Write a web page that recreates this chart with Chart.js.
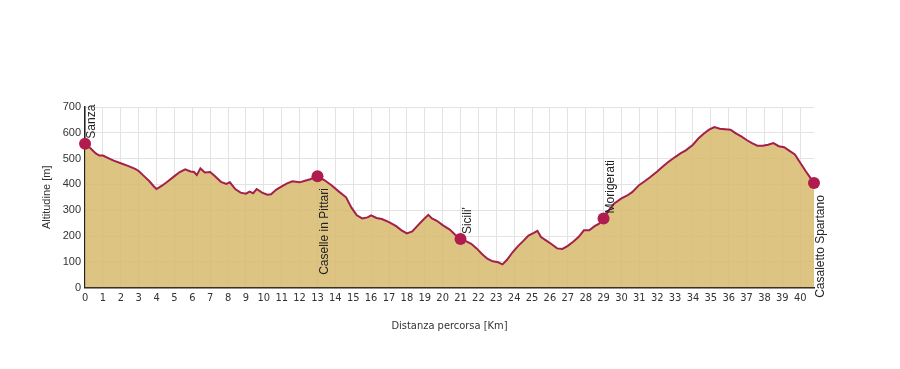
<!DOCTYPE html>
<html>
<head>
<meta charset="utf-8">
<script src="https://cdn.jsdelivr.net/npm/chart.js@4/dist/chart.umd.min.js"></script>
<style>
    html, body { margin: 0; padding: 0; background: #fff; }
    #wrap { width: 900px; height: 369px; }
</style>
</head>
<body>
<div id="wrap"><canvas id="profile"></canvas></div>
<script>
// Profilo altimetrico: distanza [km] e quota [m]
const distKm = [
    0, 0.3, 0.6, 0.8, 1.0, 1.3, 1.6, 2.0, 2.4, 2.8, 3.0, 3.3, 3.6, 3.85, 4.0, 4.3, 4.6, 5.0, 5.3, 5.6,
    5.9, 6.1, 6.25, 6.45, 6.7, 7.0, 7.3, 7.6, 7.9, 8.1, 8.4, 8.7, 9.0, 9.2, 9.4, 9.6, 9.9, 10.2, 10.4, 10.7,
    11.0, 11.3, 11.6, 12.0, 12.3, 12.6, 13.0, 13.4, 13.8, 14.2, 14.6, 14.9, 15.2, 15.5, 15.8, 16.0, 16.3, 16.6, 17.0, 17.4,
    17.7, 18.0, 18.3, 18.6, 18.9, 19.2, 19.4, 19.7, 20.0, 20.4, 20.7, 21.0, 21.3, 21.6, 21.9, 22.2, 22.5, 22.8, 23.1, 23.35,
    23.6, 23.9, 24.2, 24.5, 24.8, 25.1, 25.3, 25.5, 25.8, 26.1, 26.4, 26.7, 27.0, 27.3, 27.6, 27.9, 28.2, 28.5, 28.75, 29.0,
    29.3, 29.6, 30.0, 30.3, 30.6, 31.0, 31.3, 31.6, 32.0, 32.3, 32.6, 33.0, 33.3, 33.6, 34.0, 34.3, 34.6, 34.9, 35.2, 35.5,
    35.8, 36.1, 36.4, 36.7, 37.0, 37.3, 37.6, 37.9, 38.2, 38.5, 38.8, 39.1, 39.4, 39.7, 40.0, 40.3, 40.5, 40.77
];
const altM = [
    558, 540, 520, 512, 512, 502, 492, 482, 472, 460, 452, 432, 412, 392, 382, 395, 410, 432, 448, 458,
    450, 448, 436, 462, 446, 448, 430, 410, 402, 408, 382, 368, 364, 372, 366, 382, 368, 360, 362, 380,
    392, 404, 412, 408, 414, 420, 432, 416, 396, 372, 350, 310, 280, 268, 272, 280, 270, 266, 254, 238,
    222, 210, 218, 240, 262, 282, 268, 258, 242, 225, 205, 188, 180, 170, 152, 130, 112, 102, 98, 90,
    108, 136, 160, 180, 202, 212, 220, 196, 182, 168, 152, 150, 162, 178, 196, 222, 222, 238, 248, 268,
    300, 326, 346, 356, 370, 398, 412, 428, 450, 468, 486, 506, 520, 532, 554, 578, 596, 612, 622, 616,
    614, 612, 598, 586, 572, 560, 550, 550, 554, 560, 548, 544, 530, 516, 484, 452, 432, 405
];

// Località lungo il percorso
const placeNames = ['Sanza', 'Caselle in Pittari', "Sicili'", 'Morigerati', 'Casaletto Spartano'];
const placeKm = [0, 13.0, 21.0, 29.0, 40.77];
const placeAlt = [558, 432, 188, 268, 405];

const yTicks = [0, 100, 200, 300, 400, 500, 600, 700];

// etichette sopra o sotto il punto
const labelBelow = { 'Caselle in Pittari': true, 'Casaletto Spartano': true };

const placeLabels = {
    id: 'placeLabels',
    afterDatasetsDraw(chart) {
        const { ctx, scales: { x, y } } = chart;
        ctx.save();
        ctx.font = '12px "Liberation Sans", Arial, sans-serif';
        ctx.fillStyle = '#222';
        ctx.textBaseline = 'middle';
        placeNames.forEach((name, i) => {
            const px = x.getPixelForValue(placeKm[i]);
            const py = y.getPixelForValue(placeAlt[i]);
            const below = labelBelow[name];
            ctx.save();
            ctx.translate(px + 7, below ? py + 12 : py - 5);
            ctx.rotate(-Math.PI / 2);
            ctx.textAlign = below ? 'right' : 'left';
            ctx.fillText(name, 0, 0);
            ctx.restore();
        });
        ctx.restore();
    }
};

const tickFont = { family: '"Liberation Sans", Arial, sans-serif', size: 11 };
const narrowFont = { family: '"Liberation Sans Narrow", "DejaVu Sans Condensed", Arial, sans-serif', size: 11 };

new Chart(document.getElementById('profile'), {
    type: 'line',
    data: {
        datasets: [
            {
                label: 'Località',
                data: placeKm.map((k, i) => ({ x: k, y: placeAlt[i] })),
                showLine: false,
                clip: false,
                pointRadius: 6,
                pointHoverRadius: 6,
                pointBackgroundColor: '#b01c4e',
                pointBorderWidth: 0,
                order: 0
            },
            {
                label: 'Quota',
                data: distKm.map((k, i) => ({ x: k, y: altM[i] })),
                borderColor: '#a3204a',
                borderWidth: 2,
                backgroundColor: 'rgba(216,186,108,0.85)',
                fill: 'origin',
                pointRadius: 0,
                tension: 0,
                order: 1
            }
        ]
    },
    options: {
        responsive: true,
        maintainAspectRatio: false,
        animation: false,
        layout: { padding: { top: 107, left: 36.5, right: 86, bottom: 32 } },
        plugins: {
            legend: { display: false },
            tooltip: { enabled: false }
        },
        scales: {
            x: {
                type: 'linear',
                min: 0,
                max: 40.77,
                ticks: {
                    stepSize: 1,
                    includeBounds: false,
                    padding: 4,
                    color: '#333',
                    font: narrowFont,
                    maxRotation: 0,
                    autoSkip: false
                },
                grid: { color: '#e3e3e3', drawTicks: false },
                border: { color: '#222', width: 1.5 },
                title: {
                    display: true,
                    text: 'Distanza percorsa [Km]',
                    color: '#333',
                    font: narrowFont,
                    padding: { top: 11, bottom: 4 }
                }
            },
            y: {
                min: 0,
                max: 700,
                afterBuildTicks: s => { s.ticks = yTicks.map(v => ({ value: v })); },
                ticks: { padding: 4, color: '#333', font: tickFont },
                grid: { color: '#e3e3e3', drawTicks: false },
                border: { color: '#222', width: 1.5 },
                title: {
                    display: true,
                    text: 'Altitudine [m]',
                    color: '#333',
                    font: tickFont,
                    padding: { top: 4, bottom: 5 }
                }
            }
        }
    },
    plugins: [placeLabels]
});
</script>
</body>
</html>
